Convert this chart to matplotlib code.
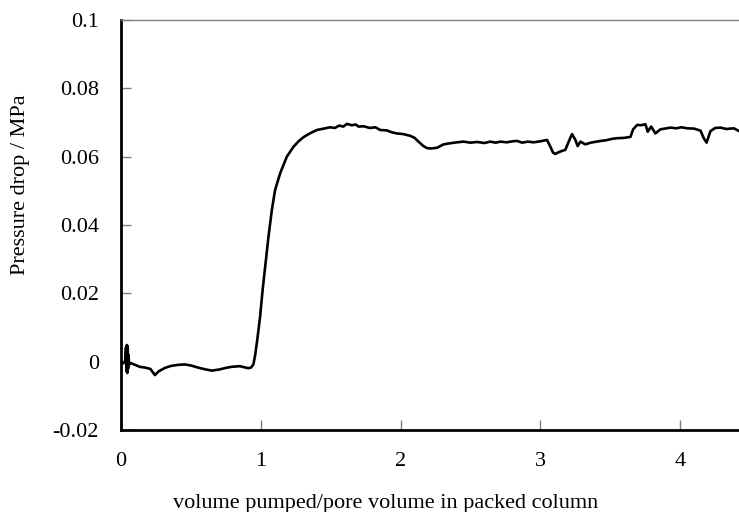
# pressure drop vs pumped volume

import matplotlib
matplotlib.use("Agg")
import matplotlib.pyplot as plt
from matplotlib import font_manager

# values
pv = [0.0, 0.015, 0.03, 0.036, 0.039, 0.042, 0.045, 0.048, 0.051, 0.054, 0.058,
      0.07, 0.1, 0.136, 0.17, 0.21, 0.243, 0.27, 0.315, 0.36, 0.41, 0.458, 0.5,
      0.55, 0.6, 0.649, 0.7, 0.75, 0.79, 0.85, 0.91, 0.93, 0.947, 0.96, 0.975,
      0.995, 1.013, 1.031, 1.055, 1.079, 1.102, 1.138, 1.186, 1.234, 1.27,
      1.305, 1.35, 1.401, 1.45, 1.496, 1.53, 1.56, 1.59, 1.616, 1.65, 1.68,
      1.699, 1.735, 1.78, 1.82, 1.854, 1.9, 1.94, 1.974, 2.02, 2.069, 2.1,
      2.128, 2.16, 2.188, 2.22, 2.26, 2.307, 2.35, 2.403, 2.45, 2.5, 2.546,
      2.6, 2.641, 2.68, 2.713, 2.76, 2.8, 2.833, 2.87, 2.91, 2.951, 3.0,
      3.047, 3.071, 3.09, 3.107, 3.125, 3.142, 3.178, 3.202, 3.226, 3.25,
      3.266, 3.286, 3.321, 3.36, 3.4, 3.429, 3.47, 3.51, 3.548, 3.6, 3.644,
      3.663, 3.692, 3.72, 3.751, 3.767, 3.792, 3.822, 3.858, 3.9, 3.93, 3.97,
      4.01, 4.049, 4.1, 4.145, 4.168, 4.188, 4.216, 4.25, 4.288, 4.33, 4.383,
      4.42]
dp = [0.0, -0.0005, 0.0002, 0.0042, -0.0028, 0.0049, -0.0033, 0.0045, -0.002,
      0.002, -0.0008, -0.0004, -0.0009, -0.0015, -0.0017, -0.0021, -0.0039,
      -0.0028, -0.0018, -0.0012, -0.0009, -0.0008, -0.0011, -0.0017, -0.0022,
      -0.0026, -0.0023, -0.0018, -0.0015, -0.0013, -0.0019, -0.0017, -0.0008,
      0.002, 0.0065, 0.0132, 0.021, 0.0278, 0.0366, 0.0444, 0.0502, 0.0551,
      0.060, 0.0629, 0.0645, 0.0657, 0.0668, 0.0678, 0.0682, 0.0686, 0.0684,
      0.0691, 0.0688, 0.0696, 0.0692, 0.0694, 0.0688, 0.0689, 0.0684, 0.0686,
      0.0678, 0.0677, 0.0671, 0.0668, 0.0666, 0.0661, 0.0655, 0.0644, 0.0632,
      0.0625, 0.0624, 0.0626, 0.0636, 0.0639, 0.0642, 0.0644, 0.0641, 0.0643,
      0.0640, 0.0644, 0.0641, 0.0644, 0.0642, 0.0645, 0.0646, 0.0641, 0.0644,
      0.0642, 0.0645, 0.0649, 0.0629, 0.0612, 0.0608, 0.0612, 0.0615, 0.062,
      0.0644, 0.0666, 0.0649, 0.0631, 0.0644, 0.0636, 0.0641, 0.0644, 0.0646,
      0.0648, 0.0652, 0.0654, 0.0655, 0.0658, 0.068, 0.0693, 0.0692, 0.0695,
      0.0673, 0.0688, 0.0668, 0.068, 0.0683, 0.0685, 0.0683, 0.0686, 0.0683,
      0.0682, 0.0676, 0.0654, 0.0641, 0.0675, 0.0684, 0.0685, 0.0681, 0.0683,
      0.0675]

x_ticks = [0, 1, 2, 3, 4]
y_ticks = [-0.02, 0, 0.02, 0.04, 0.06, 0.08, 0.1]
y_labels = ["-0.02", "0", "0.02", "0.04", "0.06", "0.08", "0.1"]

# pick a Times-like face if one is there
names = set(f.name for f in font_manager.fontManager.ttflist)
serif = [n for n in ["Liberation Serif", "Times New Roman", "Nimbus Roman",
                     "DejaVu Serif"] if n in names]
plt.rcParams["font.family"] = "serif"
plt.rcParams["font.serif"] = serif
plt.rcParams["font.size"] = 16

fig = plt.figure(figsize=(7.39, 5.12), dpi=100)
ax = fig.add_axes([0.1637, 0.160, 0.8363, 0.801])

ax.plot(pv, dp, color="black", lw=1.9)

ax.set_xlim(0, 4.42)
ax.set_ylim(-0.02, 0.1)
ax.set_xticks(x_ticks)
ax.set_xticklabels([str(t) for t in x_ticks])
ax.set_yticks(y_ticks)
ax.set_yticklabels(y_labels)

ax.tick_params(direction="in", length=7, width=1, color="gray")
ax.tick_params(axis="y", pad=16)
ax.tick_params(axis="x", pad=15.5)

ax.spines["left"].set_linewidth(2)
ax.spines["bottom"].set_linewidth(2)
ax.spines["top"].set_linewidth(1)
ax.spines["top"].set_color("gray")
ax.spines["right"].set_visible(False)

ax.set_xlabel("volume pumped/pore volume in packed column")
ax.set_ylabel("Pressure drop / MPa")
ax.xaxis.set_label_coords(0.4285, -0.157)
ax.yaxis.set_label_coords(-0.148, 0.598)

fig.savefig("out.png", dpi=100)
